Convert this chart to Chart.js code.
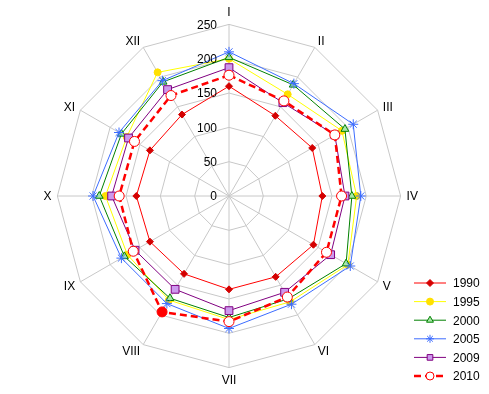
<!DOCTYPE html>
<html>
<head>
<meta charset="utf-8">
<script src="https://cdn.jsdelivr.net/npm/chart.js@4"></script>
<style>
  html, body { margin: 0; padding: 0; background: #fff; }
  #grafico { display: block; }
</style>
</head>
<body>
<canvas id="grafico" width="489" height="394"></canvas>
<script>
const ejes = ["I", "II", "III", "IV", "V", "VI", "VII", "VIII", "IX", "X", "XI", "XII"]
const marcas = [0, 50, 100, 150, 200, 250]

const v1990 = [160, 135, 140, 136, 142, 136, 136, 131, 133, 135, 133, 137]
const v1995 = [200, 171, 190, 186, 200, 178, 180, 175, 171, 180, 172, 208]
const v2000 = [202, 187, 195, 179, 197, 173, 177, 172, 176, 189, 181, 192]
const v2005 = [210, 189, 209, 192, 204, 182, 193, 181, 181, 198, 185, 194]
const v2009 = [187, 157, 178, 169, 171, 162, 167, 157, 158, 171, 169, 179]
const v2010 = [176, 160, 178, 164, 164, 170, 183, 195, 161, 160, 159, 169]

const fuente = "'Liberation Sans', Arial, sans-serif"

// relleno del marcador de 2010: blanco salvo el punto VIII
const relleno2010 = v2010.map((v, i) => i === 7 ? "#ff0000" : "#ffffff")

const series = [
  { label: "1990", data: v1990, borderColor: "#ff0000", borderWidth: 1,
    pointStyle: "rectRot", pointRadius: 3.5, pointBackgroundColor: "#d40000", pointBorderColor: "#d40000", order: 6 },
  { label: "1995", data: v1995, borderColor: "#ffff00", borderWidth: 1,
    pointStyle: "circle", pointRadius: 3.5, pointBackgroundColor: "#ffe000", pointBorderColor: "#ffe000", order: 5 },
  { label: "2000", data: v2000, borderColor: "#008000", borderWidth: 1,
    pointStyle: "triangle", pointRadius: 4.5, pointBackgroundColor: "#a8e8a8", pointBorderColor: "#008000", order: 4 },
  { label: "2005", data: v2005, borderColor: "#3c6cff", borderWidth: 1,
    pointStyle: "star", pointRadius: 5, pointBackgroundColor: "#3c6cff", pointBorderColor: "#3c6cff", order: 3 },
  { label: "2009", data: v2009, borderColor: "#800080", borderWidth: 1,
    pointStyle: "rect", pointRadius: 5.5, pointBackgroundColor: "#cc99ee", pointBorderColor: "#800080", order: 2 },
  { label: "2010", data: v2010, borderColor: "#ff0000", borderWidth: 2.5, borderDash: [7, 4],
    pointStyle: "circle", pointRadius: 5, pointBackgroundColor: relleno2010, pointBorderColor: "#ff0000", order: 1 }
]

// numeros del eje a la izquierda de la linea vertical + nombres de los ejes
const textosPlugin = {
  id: "textos",
  afterDraw(chart) {
    const { ctx } = chart
    const r = chart.scales.r
    ctx.save()
    ctx.font = "12px " + fuente
    ctx.fillStyle = "#000"
    ctx.textAlign = "right"
    ctx.textBaseline = "middle"
    marcas.forEach(m => {
      const p = r.getPointPositionForValue(0, m)
      ctx.fillText(String(m), r.xCenter - 12, p.y + 1)
    })

    // etiquetas pegadas al vertice exterior, como en el original
    ctx.textAlign = "center"
    ejes.forEach((txt, i) => {
      const v = r.getPointPositionForValue(i, 250)
      const ang = i * Math.PI / 6
      const s = Math.sin(ang), c = Math.cos(ang)
      const w = ctx.measureText(txt).width
      let dx = 0, dy
      if (Math.abs(s) > 0.01) {
        dx = Math.sign(s) * (6 * Math.abs(s) + w / 2)
        dy = -7.2 * c
      } else {
        dy = -12.5 * c
      }
      ctx.fillText(txt, v.x + dx, v.y + dy + 1)
    })
    ctx.restore()
  }
}

// leyenda con linea + marcador
const leyendaPlugin = {
  id: "leyenda",
  afterDraw(chart) {
    const { ctx } = chart
    ctx.save()
    series.forEach((s, i) => {
      const y = 283 + i * 18.6
      ctx.beginPath()
      ctx.strokeStyle = s.borderColor
      ctx.lineWidth = s.borderWidth
      ctx.setLineDash(s.borderDash || [])
      ctx.moveTo(414, y)
      ctx.lineTo(446, y)
      ctx.stroke()
      ctx.setLineDash([])
      ctx.fillStyle = s.label === "2010" ? "#ffffff" : s.pointBackgroundColor
      ctx.strokeStyle = s.pointBorderColor
      ctx.lineWidth = 1
      Chart.helpers.drawPoint(ctx, {
        pointStyle: s.pointStyle,
        radius: Math.min(s.pointRadius, 4),
        rotation: 0,
        borderWidth: 1
      }, 430, y)
      ctx.font = "12px " + fuente
      ctx.fillStyle = "#000"
      ctx.textAlign = "left"
      ctx.textBaseline = "middle"
      ctx.fillText(s.label, 453, y + 1)
    })
    ctx.restore()
  }
}

const canva = document.getElementById("grafico").getContext("2d")
window.miGrafico = new Chart(canva, {
  type: "radar",
  data: {
    labels: ejes,
    datasets: series.map(s => ({ ...s, fill: false, tension: 0, pointBorderWidth: 1 }))
  },
  options: {
    responsive: false,
    animation: false,
    devicePixelRatio: 1,
    layout: { padding: { left: 0, right: 31, top: 5, bottom: 7 } },
    plugins: {
      legend: { display: false },
      tooltip: { enabled: false }
    },
    scales: {
      r: {
        min: 0,
        max: 250,
        ticks: { stepSize: 50, display: false },
        grid: { color: "#c8c8c8", lineWidth: 1 },
        angleLines: { color: "#c8c8c8", lineWidth: 1 },
        pointLabels: {
          color: "rgba(0,0,0,0)",
          padding: 5,
          font: { size: 12, family: fuente }
        }
      }
    }
  },
  plugins: [textosPlugin, leyendaPlugin]
})
</script>
</body>
</html>
